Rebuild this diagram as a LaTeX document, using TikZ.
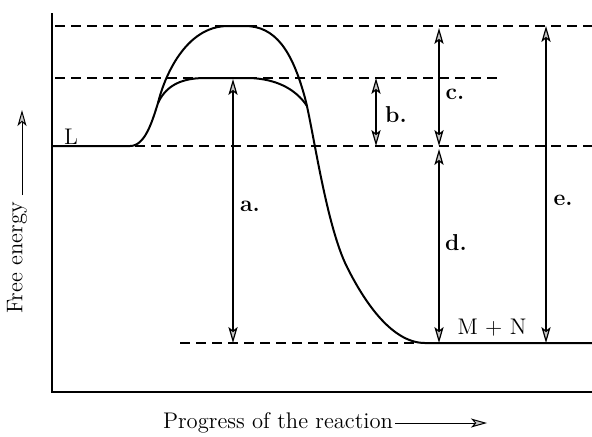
\documentclass[tikz,border=0pt]{standalone}
\usepackage{amsmath}
\usetikzlibrary{arrows.meta,positioning,calc}

\begin{document}
\begin{tikzpicture}[
x=0.5pt, y=-0.5pt,
>={Stealth[length=8pt,width=4.6pt,inset=1.8pt,fill=gray!45]},
curve/.style={line width=1pt, line join=round},
axisline/.style={line width=1pt},
levelline/.style={line width=0.6pt, dash pattern=on 5pt off 3pt},
dimarrow/.style={line width=0.6pt, <->},
axisarrow/.style={line width=0.5pt, -{Stealth[length=8pt,width=4.5pt,inset=2pt,fill=gray!45]}},
letterlabel/.style={font=\fontsize{11.5}{13}\selectfont\bfseries, inner sep=1pt},
axislabel/.style={font=\fontsize{11.3}{13}\selectfont, inner sep=1pt}
]
\useasboundingbox (0,0) rectangle (592,436);

% ================= AXES =================
\draw[axisline] (52,13) -- (52,392) -- (592,392);

\node[axislabel, rotate=90] (yLabel) at (17,258) {Free energy};
\coordinate (yTail) at (22,195);
\coordinate (yTip) at (22,110);
\draw[axisarrow] (yTail) -- (yTip);

\node[axislabel] (xLabel) at (278,423) {Progress of the reaction};
\coordinate (xTip) at (487,423);
\draw[axisarrow] (xLabel.east) -- (xTip);

% ================= ENERGY LEVELS =================
\draw[levelline] (55,26) -- (592,26);
\draw[levelline] (55,78) -- (500,78);
\draw[levelline] (135,146) -- (592,146);
\draw[levelline] (180,343) -- (420,343);

% ================= REACTION PATHS =================
% without enzyme
\draw[curve] (52,146) -- (130,146)
  .. controls (145,146) and (152,122) .. (158,103)
  .. controls (164,78) and (185,26) .. (228,26)
  -- (245,26)
  .. controls (275,26) and (292,50) .. (305,98)
  .. controls (313,128) and (326,225) .. (347,267)
  .. controls (362,297) and (390,343) .. (425,343)
  -- (592,343);
% with enzyme
\draw[curve] (158,103)
  .. controls (165,88) and (178,78) .. (205,78)
  -- (250,78)
  .. controls (275,79) and (295,88) .. (307,106);

\node[axislabel] (reactant) at (71,137) {L};
\node[axislabel] (product) at (492,328) {M + N};

% ================= ENERGY DIFFERENCES =================
\coordinate (aT) at (233,79);
\coordinate (aB) at (233,343);
\coordinate (bT) at (376,78);
\coordinate (bB) at (376,146);
\coordinate (cT) at (439,28);
\coordinate (cB) at (439,146);
\coordinate (dT) at (439,149);
\coordinate (dB) at (439,343);
\coordinate (eT) at (546,26);
\coordinate (eB) at (546,343);

\draw[dimarrow] (aT) -- (aB);
\draw[dimarrow] (bT) -- (bB);
\draw[dimarrow] (cT) -- (cB);
\draw[dimarrow] (dT) -- (dB);
\draw[dimarrow] (eT) -- (eB);

\node[letterlabel] (labA) at (250,206) {a.};
\node[letterlabel] (labB) at (396,115) {b.};
\node[letterlabel] (labC) at (455,94) {c.};
\node[letterlabel] (labD) at (456,243) {d.};
\node[letterlabel] (labE) at (563,200) {e.};

\end{tikzpicture}
\end{document}
